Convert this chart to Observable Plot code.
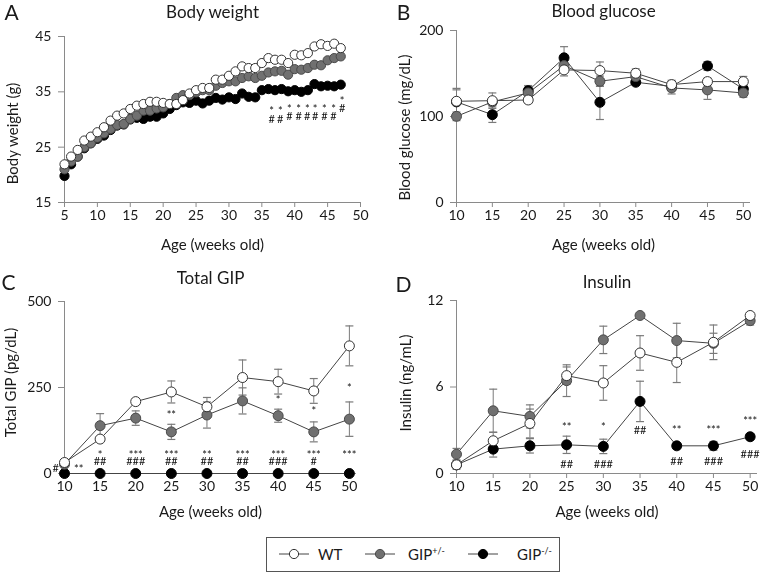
<!DOCTYPE html>
<html><head><meta charset="utf-8">
<script src="https://cdn.jsdelivr.net/npm/d3@7"></script>
<script src="https://cdn.jsdelivr.net/npm/@observablehq/plot@0.6"></script>
<style>
body{margin:0;background:#fff;font-family:Lato,sans-serif;}
#wrap{position:relative;width:762px;height:575px;overflow:hidden;background:#fff;}
.pnl{position:absolute;will-change:transform;}
#legend{position:absolute;left:266px;top:537px;width:294px;height:35px;border:1px solid #555;box-sizing:border-box;font-family:Lato,sans-serif;font-size:15px;color:#1a1a1a;}
.sym{position:absolute;top:10px;}
.lab{position:absolute;top:0;height:33px;line-height:33px;}
sup{font-size:9px;vertical-align:6px;line-height:0;}
</style></head>
<body><div id="wrap"></div>
<script>
// ---------- data ----------
const groups = ["WT", "GIP+/-", "GIP-/-"];
// Panel A: body weight (g), weekly
const bwWeeks = [5,6,7,8,9,10,11,12,13,14,15,16,17,18,19,20,21,22,23,24,25,26,27,28,29,30,31,32,33,34,35,36,37,38,39,40,41,42,43,44,45,46,47];
const bwWT  = [21.9,23.3,24.5,26.2,26.9,27.7,28.6,29.8,30.7,31.1,31.9,32.5,32.8,33.2,33.2,33.0,32.8,32.8,33.5,34.7,35.3,35.7,35.7,37.2,37.2,37.9,38.7,39.6,39.3,39.3,40.2,41.1,40.8,40.8,40.2,41.7,41.6,42.0,43.2,43.6,43.3,43.7,42.9];
const bwHet = [21.0,22.4,23.3,25.0,25.7,26.7,27.5,28.3,29.0,29.2,30.1,30.7,31.6,31.6,32.0,32.2,32.8,33.9,34.4,34.4,34.9,35.3,35.3,36.1,36.6,36.9,36.9,37.5,37.8,37.5,37.9,38.5,38.7,38.8,38.1,39.1,39.0,39.3,39.9,39.8,40.7,41.1,41.4];
const bwKO  = [19.8,21.9,23.3,24.8,25.7,26.5,27.1,28.1,28.9,29.1,30.0,30.3,30.1,30.5,30.5,31.1,31.9,32.6,33.1,33.0,33.4,32.9,33.4,33.9,33.6,34.0,33.7,34.7,34.1,34.0,35.3,35.5,35.3,35.5,35.1,35.3,35.0,35.3,36.4,36.0,36.1,36.0,36.3];
const bwSigX   = [36.5,37.8,39.2,40.6,41.9,43.1,44.5,45.9,47.2];
const bwSigY   = [30.5,30.5,31.0,31.0,31.0,31.0,31.0,31.0,32.4];
const bwSigStar = ["*","*","*","*","*","*","*","*","*"];
const bwSigHash = ["#","#","#","#","#","#","#","#","#"];

// 5-weekly measurements
const weeks = [10,15,20,25,30,35,40,45,50];
// Panel B: blood glucose (mg/dL)
const bgWT = [117.7,118.4,119.2,154.2,153.4,150.3,137.1,140.6,140.6];
const bgWTe = [15,9,4,7,10,5,5,4,6];
const bgHet = [100.2,117,127.4,159.2,141,146.4,133.2,130.9,127.4];
const bgHete = [5,4,8,5,6,5,7,11,5];
const bgKO = [117,102.1,130,168.2,116.5,139.8,135,158.8,132];
const bgKOe = [14,9,6,13,20,3,5,5,4];
// Panel C: total GIP (pg/dL)
const gipWT = [32,100,209,237,194,279,267,240,371];
const gipWTe = [5,4,5,32,27,51,36,36,58];
const gipHet = [27,139,161,121,170,211,168,121,158];
const gipHete = [5,35,21,22,38,38,19,29,50];
const gipKO = [0,0,0,0,0,0,0,0,0];
const gipKOe = [0,0,0,0,0,0,0,0,0];
const gipSigHi = [{x:25,t:"**",y:168},{x:40,t:"*",y:212},{x:45,t:"*",y:179},{x:50,t:"*",y:247}];
const gipSigX = [15,20,25,30,35,40,45,50];
const gipSigStar = ["*","***","***","**","***","***","***","***"];
const gipSigHash = ["##","###","##","##","##","###","#",""];
const gipSigLowY = 39.5;
const gipSigLow = [{x:8.75,t:"#",y:16},{x:12.0,t:"**",y:12}];
// Panel D: insulin (ng/mL)
const insWT = [0.6,2.27,3.47,6.79,6.28,8.36,7.71,9.1,10.96];
const insWTe = [0.3,0.6,1.0,0.6,1.2,1.2,1.4,1.2,0.2];
const insHet = [1.34,4.35,3.96,6.44,9.27,10.96,9.22,9.03,10.6];
const insHete = [0.4,1.5,0.8,1.1,0.95,0.15,1.2,0.7,0.3];
const insKO = [0.6,1.69,1.92,1.99,1.88,5.0,1.92,1.92,2.55];
const insKOe = [0.2,0.55,0.5,0.6,0.5,1.4,0.2,0.3,0.2];
const insSigHi = [{x:25,t:"**",y:3.19},{x:30,t:"*",y:3.19},{x:35,t:"##",y:2.98},{x:40,t:"**",y:2.98},{x:45,t:"***",y:2.98},{x:50,t:"***",y:3.6}];
const insSigLo = [{x:25,t:"##",y:0.62},{x:30,t:"###",y:0.62},{x:40,t:"##",y:0.83},{x:45,t:"###",y:0.83},{x:50,t:"###",y:1.3}];

// ---------- styles ----------
const FILL = {"WT":"#ffffff","GIP+/-":"#707070","GIP-/-":"#000000"};
const STROKE = {"WT":"#333333","GIP+/-":"#4a4a4a","GIP-/-":"#000000"};
const AX = "#8a8a8a", TXT = "#1a1a1a", FONT = "Lato, sans-serif";
const cap = {draw(ctx){ ctx.moveTo(-4,0); ctx.lineTo(4,0); }};

function rows(xs, vals, errs, g){ return xs.map((x,i)=>({x, y:vals[i], e: errs ? errs[i] : 0, g})); }

function panel(o){
  const marks = [
    Plot.axisY({ticks:o.yTicks, tickSize:6, tickPadding:7, stroke:AX, fill:TXT, fontSize:14, label:null}),
    Plot.axisX({ticks:o.xTicks, tickSize:5, tickPadding:3, stroke:AX, fill:TXT, fontSize:14, label:null}),
    Plot.ruleY([o.yDomain[0]], {stroke:AX}),
    Plot.ruleX([o.xDomain[0]], {stroke:AX}),
    Plot.text([o.title], {frameAnchor:"top", lineAnchor:"middle", textAnchor:"middle", dy:o.titleDy, fontSize:17, fill:TXT}),
    Plot.text([o.letter], {frameAnchor:"top-left", lineAnchor:"middle", textAnchor:"middle", dx:o.letterDx, dy:o.letterDy, fontSize:21, fill:TXT}),
    Plot.text(["Age (weeks old)"], {frameAnchor:"bottom", lineAnchor:"middle", textAnchor:"middle", dx:o.xlabDx||0, dy:o.xlabDy, fontSize:15, fill:TXT}),
    Plot.text([o.ylab], {frameAnchor:"left", lineAnchor:"middle", textAnchor:"middle", dx:o.ylabDx, dy:o.ylabDy, rotate:-90, fontSize:15, fill:TXT})
  ];
  const order = ["GIP-/-","GIP+/-","WT"];
  if (o.lines) for (const g of order) marks.push(Plot.line(o.series[g], {x:"x", y:"y", stroke:"#444", strokeWidth:1}));
  if (o.errors) for (const g of order) {
    const d = o.series[g].filter(r=>r.e>0);
    marks.push(Plot.ruleX(d, {x:"x", y1:r=>r.y-r.e, y2:r=>r.y+r.e, stroke:"#7a7a7a", strokeWidth:1}));
    marks.push(Plot.dot(d, {x:"x", y:r=>r.y+r.e, symbol:cap, stroke:"#7a7a7a", strokeWidth:1.2}));
    marks.push(Plot.dot(d, {x:"x", y:r=>r.y-r.e, symbol:cap, stroke:"#7a7a7a", strokeWidth:1.2}));
  }
  for (const g of order) marks.push(Plot.dot(o.series[g], {x:"x", y:"y", r:o.r, fill:FILL[g], stroke:STROKE[g], strokeWidth:1}));
  for (const a of (o.annots||[])) marks.push(Plot.text(a.data, {x:"x", y:"y", text:"t", fontSize:11, lineHeight:a.lh||1, fill:"#111"}));
  return Plot.plot({
    width:381, height:260,
    marginLeft:o.ml, marginRight:o.mr, marginTop:o.mt, marginBottom:o.mb,
    style:{fontFamily:FONT, background:"transparent", overflow:"visible", color:TXT},
    x:{domain:o.xDomain, label:null},
    y:{domain:o.yDomain, label:null},
    marks
  });
}

const wrap = document.getElementById("wrap");
function place(el, left, top){ const d=document.createElement("div"); d.className="pnl"; d.style.left=left+"px"; d.style.top=top+"px"; d.appendChild(el); wrap.appendChild(d); }

// Panel A
place(panel({
  title:"Body weight", letter:"A", ylab:"Body weight (g)",
  xDomain:[5,50], yDomain:[15,45], xTicks:[5,10,15,20,25,30,35,40,45,50], yTicks:[15,25,35,45],
  ml:64, mr:21, mt:36, mb:58, r:4.6, lines:false, errors:false,
  titleDy:-24, letterDx:-53, letterDy:-23, xlabDy:43, ylabDx:-51, ylabDy:14,
  series:{"WT":rows(bwWeeks,bwWT,null,"WT"),"GIP+/-":rows(bwWeeks,bwHet,null,"GIP+/-"),"GIP-/-":rows(bwWeeks,bwKO,null,"GIP-/-")},
  annots:[{lh:0.64, data:bwSigX.map((x,i)=>({x, y:bwSigY[i], t:bwSigStar[i]+"\n"+bwSigHash[i]}))}]
}), 0, 0);

// Panel B
place(panel({
  title:"Blood glucose", letter:"B", ylab:"Blood glucose (mg/dL)",
  xDomain:[10,51], yDomain:[0,200], xTicks:weeks, yTicks:[0,100,200],
  ml:75, mr:12, mt:30, mb:58, r:5, lines:true, errors:true,
  titleDy:-19, letterDx:-53, letterDy:-17, xlabDy:43, ylabDx:-51, ylabDy:11,
  series:{"WT":rows(weeks,bgWT,bgWTe,"WT"),"GIP+/-":rows(weeks,bgHet,bgHete,"GIP+/-"),"GIP-/-":rows(weeks,bgKO,bgKOe,"GIP-/-")}
}), 381, 0);

// Panel C
place(panel({
  title:"Total GIP", letter:"C", ylab:"Total GIP (pg/dL)",
  xDomain:[10,51], yDomain:[0,500], xTicks:weeks, yTicks:[0,250,500],
  ml:64, mr:25, mt:36, mb:52, r:5, lines:true, errors:true,
  titleDy:-23, letterDx:-56, letterDy:-18, xlabDy:39, ylabDx:-53, ylabDy:-5,
  series:{"WT":rows(weeks,gipWT,gipWTe,"WT"),"GIP+/-":rows(weeks,gipHet,gipHete,"GIP+/-"),"GIP-/-":rows(weeks,gipKO,gipKOe,"GIP-/-")},
  annots:[{data:gipSigHi}, {data:gipSigLow},
    {lh:0.6, data:gipSigX.map((x,i)=>({x, y:gipSigLowY, t:gipSigStar[i]+"\n"+gipSigHash[i]}))}]
}), 0, 265);

// Panel D
place(panel({
  title:"Insulin", letter:"D", ylab:"Insulin (ng/mL)",
  xDomain:[10,51], yDomain:[0,12], xTicks:weeks, yTicks:[0,6,12],
  ml:75, mr:5, mt:35, mb:52, r:5, lines:true, errors:true,
  titleDy:-18, letterDx:-53, letterDy:-15, xlabDy:39, ylabDx:-50, ylabDy:-4,
  series:{"WT":rows(weeks,insWT,insWTe,"WT"),"GIP+/-":rows(weeks,insHet,insHete,"GIP+/-"),"GIP-/-":rows(weeks,insKO,insKOe,"GIP-/-")},
  annots:[{data:insSigHi}, {data:insSigLo}]
}), 381, 265);

// Legend
const lg = document.createElement("div"); lg.id="legend";
const items = [{g:"WT", html:"WT", s:12, t:51},{g:"GIP+/-", html:"GIP<sup>+/-</sup>", s:98, t:141},{g:"GIP-/-", html:"GIP<sup>-/-</sup>", s:201, t:250}];
for (const it of items){
  const s=document.createElement("div"); s.className="sym"; s.style.left=it.s+"px";
  s.innerHTML = `<svg width="30" height="12" style="display:block"><line x1="0" x2="30" y1="6" y2="6" stroke="#444" stroke-width="1"/><circle cx="15" cy="6" r="4.6" fill="${FILL[it.g]}" stroke="${STROKE[it.g]}"/></svg>`;
  const t=document.createElement("div"); t.className="lab"; t.style.left=it.t+"px"; t.innerHTML=it.html;
  lg.appendChild(s); lg.appendChild(t);
}
wrap.appendChild(lg);
</script>
</body></html>
